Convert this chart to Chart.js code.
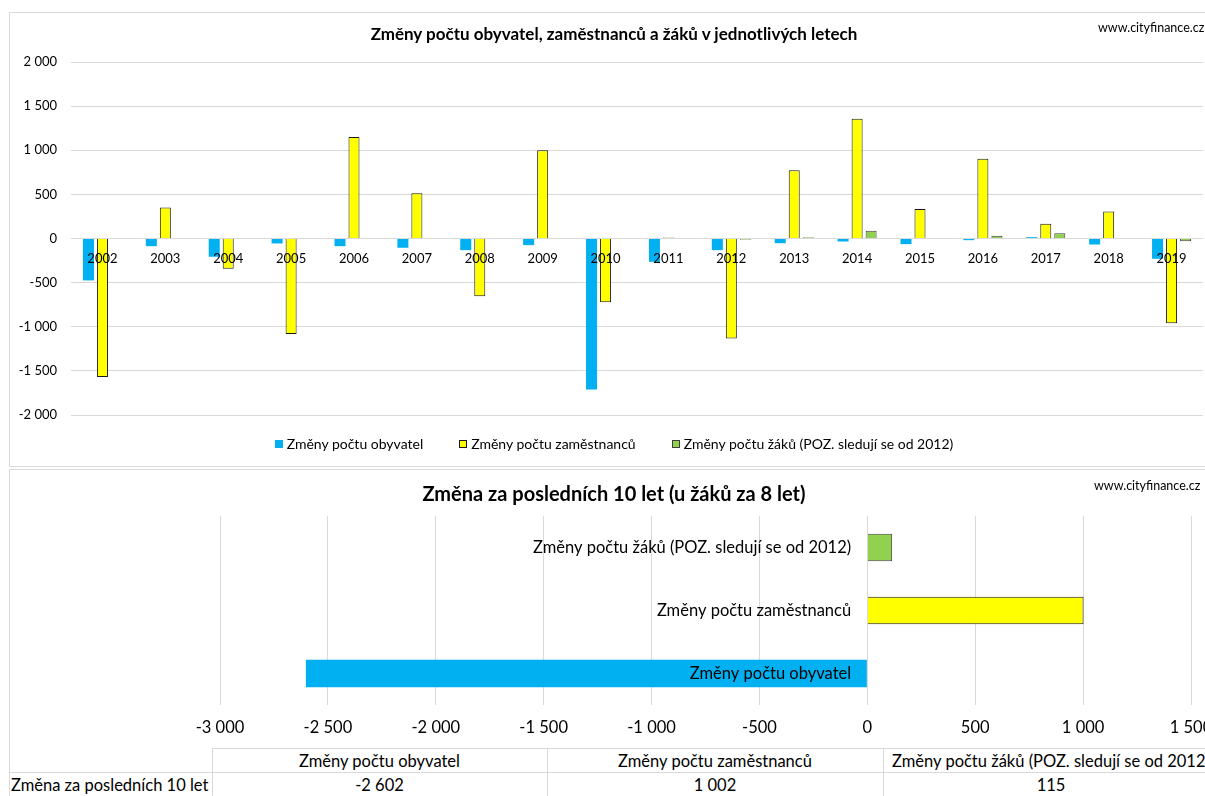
<!DOCTYPE html>
<html lang="cs">
<head>
<meta charset="utf-8">
<title>Změny počtu obyvatel, zaměstnanců a žáků</title>
<script src="https://cdn.jsdelivr.net/npm/chart.js@4.4.1/dist/chart.umd.min.js"></script>
<style>
  html, body { margin: 0; padding: 0; background: #fff; overflow: hidden; width: 1205px; height: 796px; }
  body { position: relative; font-family: Lato, 'Open Sans', sans-serif; color: #000; }
  .box { position: absolute; box-sizing: border-box; border: 1px solid #d9d9d9; }
  #box1 { left: 9px; top: 12px; width: 1211px; height: 455px; }
  #box2 { left: 9px; top: 469px; width: 1211px; height: 400px; }
  canvas { position: absolute; }
  #c1 { left: 10px; top: 13px; }
  #c2 { left: 10px; top: 470px; }
  .title { position: absolute; left: 10px; width: 1208px; text-align: center; font-weight: bold; white-space: nowrap; }
  #t1 { top: 24px; font-size: 17px; line-height: 20px; }
  #t2 { top: 481px; font-size: 20px; line-height: 24px; }
  .web { position: absolute; font-size: 12.5px; line-height: 15px; white-space: nowrap; }
  #legend1 { position: absolute; left: 10px; top: 436px; width: 1208px; height: 16px;
             display: flex; justify-content: center; gap: 36px; font-size: 14px; line-height: 16px; }
  #legend1 .item { display: flex; align-items: center; white-space: nowrap; }
  #legend1 .sw { width: 8px; height: 8px; margin-right: 4px; box-sizing: border-box; }
  #tab { position: absolute; left: 9px; top: 748px; width: 1210px; border-collapse: collapse;
         table-layout: fixed; font-size: 16.5px; }
  #tab td { border: 1px solid #d9d9d9; height: 23px; padding: 0; text-align: center;
            white-space: nowrap; overflow: visible; line-height: 22px; }
  #tab td.blank { border-left: none; border-top: none; }
  #tab td.rowlab { text-align: left; padding-left: 2px; border-left: none; }
</style>
</head>
<body>
<div class="box" id="box1"></div>
<div class="box" id="box2"></div>
<canvas id="c1" width="1208" height="452"></canvas>
<div class="title" id="t1">Změny počtu obyvatel, zaměstnanců a žáků v jednotlivých letech</div>
<div class="web" style="left:1098px; top:20px;">www.cityfinance.cz</div>
<div id="legend1"></div>
<canvas id="c2" width="1240" height="278"></canvas>
<div class="title" id="t2">Změna za posledních 10 let (u žáků za 8 let)</div>
<div class="web" style="left:1094px; top:478px;">www.cityfinance.cz</div>
<table id="tab"></table>

<script>
// roky a roční změny
const roky = ['2002', '2003', '2004', '2005', '2006', '2007', '2008', '2009', '2010',
              '2011', '2012', '2013', '2014', '2015', '2016', '2017', '2018', '2019'];
const zmenyObyvatel = [-475, -87, -207, -56, -87, -105, -132, -75, -1710,
                       -264, -132, -53, -34, -64, -19, 15, -68, -230];
const zmenyZamestnancu = [-1570, 350, -343, -1081, 1149, 512, -655, 1000, -723,
                          10, -1134, 772, 1356, 335, 904, 166, 305, -960];
const zmenyZaku = [null, null, null, null, null, null, null, null, null,
                   null, -15, 15, 87, 5, 30, 60, 5, -30];

const nazvySerii = ['Změny počtu obyvatel', 'Změny počtu zaměstnanců',
                    'Změny počtu žáků (POZ. sledují se od 2012)'];

// souhrn za posledních 10 let
const souhrnPopisek = 'Změna za posledních 10 let';
const souhrnHodnoty = [-2602, 1002, 115];

const barvy = ['#00B0F0', '#FFFF00', '#92D050'];
const okraje = ['#00B0F0', '#1a1a1a', '#404040'];
const sirkyOkraju = [0, 1, 1];

Chart.defaults.font.family = 'Lato';
Chart.defaults.color = '#000';

// cisla s mezerou jako oddelovacem tisicu
function cz(v) {
    const s = String(Math.abs(v)).replace(/\B(?=(\d{3})+(?!\d))/g, ' ');
    return (v < 0 ? '-' : '') + s;
}

/**
 * Horni graf - zmeny v jednotlivych letech
 */
const chart1 = new Chart(document.getElementById('c1'), {
    type: 'bar',
    data: {
        labels: roky,
        datasets: [zmenyObyvatel, zmenyZamestnancu, zmenyZaku].map((d, i) => ({
            label: nazvySerii[i],
            data: d,
            backgroundColor: barvy[i],
            borderColor: okraje[i],
            borderWidth: sirkyOkraju[i]
        }))
    },
    options: {
        responsive: false,
        animation: false,
        layout: { padding: { left: 0, right: 15, top: 49, bottom: 50 } },
        datasets: { bar: { categoryPercentage: 0.668, barPercentage: 0.786 } },
        plugins: {
            legend: { display: false },
            tooltip: { enabled: false }
        },
        scales: {
            x: {
                position: { y: 0 },
                grid: { display: false, drawTicks: false },
                border: { display: false },
                ticks: { font: { size: 13 }, padding: 13, maxRotation: 0, autoSkip: false, z: 1 }
            },
            y: {
                min: -2000,
                max: 2000,
                grid: { color: '#d9d9d9', drawTicks: false },
                border: { display: false },
                ticks: { stepSize: 500, callback: cz, padding: 14, font: { size: 13 } },
                afterFit: s => { s.width = 61; }
            }
        }
    }
});

// legenda horniho grafu
const legend1 = document.getElementById('legend1');
chart1.data.datasets.forEach(ds => {
    const item = document.createElement('div');
    item.className = 'item';
    const sw = document.createElement('span');
    sw.className = 'sw';
    sw.style.background = ds.backgroundColor;
    if (ds.borderWidth) sw.style.border = ds.borderWidth + 'px solid ' + ds.borderColor;
    item.appendChild(sw);
    item.appendChild(document.createTextNode(ds.label));
    legend1.appendChild(item);
});

/**
 * Dolni graf - zmena za poslednich 10 let
 */
new Chart(document.getElementById('c2'), {
    type: 'bar',
    data: {
        labels: nazvySerii,
        datasets: [{
            data: souhrnHodnoty,
            backgroundColor: barvy,
            borderColor: okraje,
            borderWidth: sirkyOkraju
        }]
    },
    options: {
        indexAxis: 'y',
        responsive: false,
        animation: false,
        layout: { padding: { left: 210, right: 59, top: 46, bottom: 0 } },
        datasets: { bar: { categoryPercentage: 1, barPercentage: 0.44 } },
        plugins: {
            legend: { display: false },
            tooltip: { enabled: false }
        },
        scales: {
            x: {
                min: -3000,
                max: 1500,
                grid: { color: '#d9d9d9', drawTicks: false },
                border: { display: false },
                ticks: { stepSize: 500, callback: cz, padding: 13, font: { size: 16.5 } },
                afterFit: s => { s.height = 43; }
            },
            y: {
                // popisky kategorii kousek vlevo od nuly, jako v Excelu
                position: { x: -75 },
                reverse: true,
                grid: { display: false },
                border: { display: false },
                ticks: { font: { size: 16.5 }, z: 1 }
            }
        }
    }
});

// tabulka pod grafem
const tab = document.getElementById('tab');
const cols = document.createElement('colgroup');
[203, 335, 336, 336].forEach(w => {
    const c = document.createElement('col');
    c.style.width = w + 'px';
    cols.appendChild(c);
});
tab.appendChild(cols);
const r1 = tab.insertRow();
r1.insertCell().className = 'blank';
nazvySerii.forEach(n => { r1.insertCell().textContent = n; });
const r2 = tab.insertRow();
const lab = r2.insertCell();
lab.className = 'rowlab';
lab.textContent = souhrnPopisek;
souhrnHodnoty.forEach(v => { r2.insertCell().textContent = cz(v); });
</script>
</body>
</html>
